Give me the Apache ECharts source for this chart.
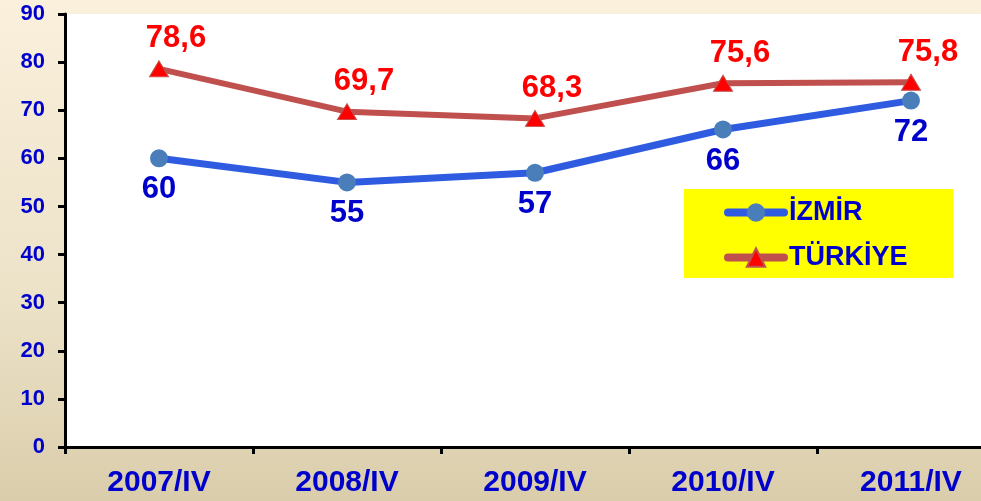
<!DOCTYPE html>
<html lang="tr">
<head>
  <meta charset="UTF-8" />
  <title>İzmir - Türkiye</title>
  <script src="https://cdn.jsdelivr.net/npm/echarts@6/dist/echarts.min.js"></script>
  <style>
    html, body { margin: 0; padding: 0; overflow: hidden; }
    body { width: 981px; height: 501px; background: linear-gradient(to bottom, #faf0dc 0%, #ece2c8 60%, #dacdab 100%); }
    /* plot runs past the right edge in the original, so the canvas is a bit wider than the window */
    #chart { width: 1005px; height: 501px; }
  </style>
</head>
<body>
  <div id="chart"></div>
  <script>
    const categories = ['2007/IV', '2008/IV', '2009/IV', '2010/IV', '2011/IV'];
    const izmir = [60, 55, 57, 66, 72];
    const turkiye = [78.6, 69.7, 68.3, 75.6, 75.8];
    const yTicks = [0, 10, 20, 30, 40, 50, 60, 70, 80, 90];

    const font = 'Liberation Sans, Arial, sans-serif';
    const chart = echarts.init(document.getElementById('chart'));

    chart.setOption({
      backgroundColor: 'transparent',
      textStyle: { fontFamily: font },
      grid: { left: 65, right: 0, top: 14, bottom: 54, backgroundColor: '#fff', show: true, borderWidth: 0 },
      legend: {
        left: 684, top: 189,
        orient: 'vertical',
        backgroundColor: '#ffff00',
        padding: [10, 46, 7, 40],
        itemGap: 18,
        itemWidth: 56, itemHeight: 23,
        lineStyle: { width: 8, cap: 'round' },
        textStyle: { color: '#0000cc', fontWeight: 'bold', fontSize: 27, fontFamily: font },
        data: ['İZMİR', 'TÜRKİYE']
      },
      xAxis: {
        type: 'category',
        data: categories,
        boundaryGap: true,
        axisLine: { lineStyle: { color: '#000', width: 3 } },
        axisTick: { show: true, length: 7, lineStyle: { width: 3 } },
        axisLabel: { color: '#0000cc', fontWeight: 'bold', fontSize: 30, margin: 21, fontFamily: font },
        splitLine: { show: false }
      },
      yAxis: {
        type: 'value',
        min: yTicks[0], max: yTicks[yTicks.length - 1], interval: 10,
        axisLine: { show: true, lineStyle: { color: '#000', width: 3 } },
        axisTick: { show: true, length: 7, lineStyle: { width: 3 } },
        axisLabel: { color: '#0000cc', fontWeight: 'bold', fontSize: 22, margin: 20, fontFamily: font },
        splitLine: { show: false }
      },
      series: [
        {
          name: 'İZMİR',
          type: 'line',
          data: izmir,
          symbol: 'circle',
          symbolSize: 18,
          lineStyle: { color: '#2e5be0', width: 7 },
          itemStyle: { color: '#4a7ebb' },
          label: {
            show: true, position: 'bottom', distance: 7,
            color: '#0000cc', fontWeight: 'bold', fontSize: 31, fontFamily: font
          },
          z: 3
        },
        {
          name: 'TÜRKİYE',
          type: 'line',
          data: turkiye,
          symbol: 'triangle',
          symbolSize: [19, 16],
          lineStyle: { color: '#c0504d', width: 6 },
          itemStyle: { color: '#ff0000', borderColor: '#c0504d', borderWidth: 1 },
          label: {
            show: true, position: 'top', distance: 6, offset: [17, 0],
            color: '#ff0000', fontWeight: 'bold', fontSize: 31, fontFamily: font,
            formatter: p => String(p.value).replace('.', ',')
          },
          z: 2
        }
      ]
    });
  </script>
</body>
</html>
